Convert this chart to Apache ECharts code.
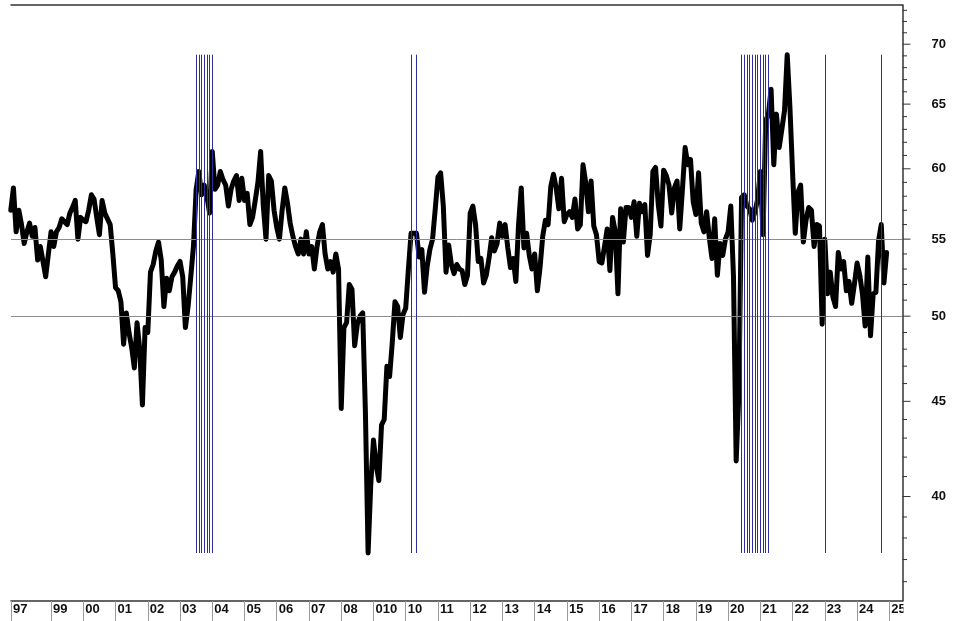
<!DOCTYPE html>
<html><head><meta charset="utf-8">
<script src="https://cdn.jsdelivr.net/npm/echarts@6/dist/echarts.min.js"></script>
<style>html,body{margin:0;padding:0;background:#fff}#c{width:959px;height:621px}</style>
</head><body><div id="c"></div>
<script>
// Monthly index values, first point = Oct 1997
const startYear = 1997, startMonth = 10;
const pmi = [
  57.0, 58.6, 55.5,
  57.0, 56.0, 54.7, 55.5, 56.1, 55.2, 55.8, 53.6, 54.5, 53.5, 52.5, 54.0,
  55.5, 54.5, 55.5, 55.8, 56.4, 56.2, 56.0, 56.8, 57.2, 57.7, 55.0, 56.5,
  56.3, 56.2, 57.0, 58.1, 57.8, 56.5, 55.3, 57.7, 56.8, 56.4, 56.0, 54.0,
  51.8, 51.6, 50.9, 48.3, 50.2, 49.0, 48.1, 46.9, 49.6, 48.0, 44.8, 49.3,
  49.0, 52.8, 53.3, 54.2, 54.8, 53.6, 50.6, 52.4, 51.6, 52.5, 52.8, 53.2,
  53.5, 52.5, 49.3, 50.6, 52.5, 54.5, 58.5, 59.8, 58.1, 58.8, 58.0, 56.8,
  61.3, 58.5, 58.8, 59.8, 59.2, 58.8, 57.3, 58.5, 59.1, 59.5, 57.7, 59.3,
  57.7, 58.2, 56.0, 56.5, 57.7, 59.0, 61.3, 57.3, 55.0, 59.5, 59.1, 57.0,
  55.8, 55.0, 57.0, 58.6, 57.5, 56.1, 55.2, 54.5, 54.0, 55.0, 54.0, 55.5,
  54.0, 54.5, 53.0, 54.5, 55.5, 56.0, 54.0, 53.0, 53.5, 52.8, 54.0, 53.0,
  44.6, 49.3, 49.6, 52.0, 51.7, 48.2, 49.5, 50.0, 50.2, 44.4, 37.3, 40.6,
  42.9, 41.6, 40.8, 43.7, 44.0, 47.0, 46.4, 48.4, 50.9, 50.6, 48.7, 50.1,
  50.5, 53.0, 55.4, 55.4, 55.4, 53.8, 54.3, 51.5, 53.2, 54.3, 55.0, 57.1,
  59.4, 59.7, 57.3, 52.8, 54.6, 53.3, 52.7, 53.3, 53.0, 52.9, 52.0, 52.6,
  56.8, 57.3, 56.0, 53.5, 53.7, 52.1, 52.6, 53.7, 55.1, 54.2, 54.7, 56.1,
  55.2, 56.0, 54.4, 53.1, 53.7, 52.2, 56.0, 58.6, 54.4, 55.4, 53.9, 53.0,
  54.0, 51.6, 53.1, 55.2, 56.3, 56.0, 58.7, 59.6, 58.6, 57.1, 59.3, 56.2,
  56.7, 56.9, 56.5, 57.8, 55.7, 56.0, 60.3, 59.0, 56.9, 59.1, 55.9, 55.3,
  53.5, 53.4, 54.5, 55.7, 52.9, 56.5, 55.5, 51.4, 57.1, 54.8, 57.2, 57.2,
  56.5, 57.6, 55.2, 57.5, 56.9, 57.4, 53.9, 55.3, 59.8, 60.1, 57.4, 55.9,
  59.9, 59.5, 58.8, 56.8, 58.6, 59.1, 55.7, 58.5, 61.6, 60.3, 60.7, 57.6,
  56.7, 59.7, 56.1, 55.5, 56.9, 55.1, 53.7, 56.4, 52.6, 54.7, 53.9, 55.0,
  55.5, 57.3, 52.5, 41.8, 45.4, 57.9, 58.1, 57.3, 57.1, 56.3, 56.9, 57.8,
  59.8, 55.3, 63.7, 64.2, 66.2, 60.3, 64.2, 61.6, 63.0, 64.5, 69.1, 64.8,
  59.7, 55.4, 58.3, 58.8, 54.8, 56.3, 57.2, 57.0, 54.5, 56.0, 55.9, 49.5,
  55.0, 51.4, 52.8, 51.2, 50.6, 54.1, 53.0, 53.5, 51.6, 52.2, 50.8, 52.0,
  53.4, 52.6, 51.4, 49.4, 53.8, 48.8, 51.4, 51.5, 54.9, 56.0, 52.1, 54.1
];

// Bottom axis: tick positions (decimal years) and their printed labels
const xTickValues = [1997.7575, 1999, 2000, 2001, 2002, 2003, 2004, 2005, 2006, 2007, 2008, 2009,
  2010, 2011, 2012, 2013, 2014, 2015, 2016, 2017, 2018, 2019, 2020, 2021, 2022, 2023, 2024, 2025];
const xTickLabels = ['97', '99', '00', '01', '02', '03', '04', '05', '06', '07', '08', '010',
  '10', '11', '12', '13', '14', '15', '16', '17', '18', '19', '20', '21', '22', '23', '24', '25'];

// Right axis ticks
const yMajorTicks = [40, 45, 50, 55, 60, 65, 70];
const yMinorTicks = [36, 37, 38, 39, 41, 42, 43, 44, 46, 47, 48, 49, 51, 52, 53, 54, 56, 57, 58, 59,
  61, 62, 63, 64, 66, 67, 68, 69, 71, 72, 73];

// Horizontal reference levels
const refLevels = [50, 55];

// Months marked by vertical blue lines [year, month]
const markerMonths = [
  [2003, 7], [2003, 8], [2003, 9], [2003, 10], [2003, 11], [2003, 12], [2004, 1],
  [2010, 3], [2010, 5],
  [2020, 6], [2020, 7], [2020, 8], [2020, 9], [2020, 10], [2020, 11], [2020, 12],
  [2021, 1], [2021, 2], [2021, 3], [2021, 4],
  [2023, 1],
  [2024, 10]
];

const X_MIN = 1997.7575, X_MAX = 2025.409;
const Y_MIN = 35.15, Y_MAX = 73.48;

const lineData = pmi.map((v, i) => [startYear + (startMonth - 1 + i) / 12, v]);
const markerT = markerMonths.map(([y, m]) => y + (m - 1) / 12);
const vMin = Math.min(...pmi), vMax = Math.max(...pmi);

const tickItems = yMajorTicks.map(v => [X_MAX, v, 1]).concat(yMinorTicks.map(v => [X_MAX, v, 0]));

const chart = echarts.init(document.getElementById('c'), null, {renderer: 'canvas'});
chart.setOption({
  animation: false,
  backgroundColor: '#fff',
  grid: {left: 11, right: 56.5, top: 5, bottom: 20, containLabel: false},
  xAxis: [{
    type: 'value', min: X_MIN, max: X_MAX, position: 'bottom',
    axisLine: {show: true, onZero: false, lineStyle: {color: '#333', width: 1.5}},
    axisTick: {show: true, customValues: xTickValues, length: 20, lineStyle: {color: '#9a9a9a', width: 1}},
    axisLabel: {
      customValues: xTickValues,
      formatter: v => { const i = xTickValues.findIndex(t => Math.abs(t - v) < 1e-6); return i >= 0 ? xTickLabels[i] : ''; },
      align: 'left', verticalAlign: 'top', margin: 2, padding: [0, 0, 0, 2],
      fontFamily: 'Arial', fontWeight: 'bold', fontSize: 13, color: '#111'
    },
    splitLine: {show: false}
  }, {
    type: 'value', min: X_MIN, max: X_MAX, position: 'top',
    axisLine: {show: true, onZero: false, lineStyle: {color: '#333', width: 1.5}},
    axisTick: {show: false}, axisLabel: {show: false}, splitLine: {show: false}
  }],
  yAxis: {
    type: 'log', logBase: 10, min: Y_MIN, max: Y_MAX, position: 'right',
    axisLine: {show: true, lineStyle: {color: '#333', width: 1.5}},
    axisTick: {show: false}, axisLabel: {show: false}, splitLine: {show: false}
  },
  visualMap: {
    type: 'piecewise', show: false, seriesIndex: 1, dimension: 0,
    pieces: markerT.map(t => ({gte: t - 1 / 24, lt: t + 1 / 24, color: '#12125e'})),
    outOfRange: {color: '#000'}
  },
  series: [{
    name: 'ref', type: 'line', data: [], z: 1, silent: true,
    markLine: {
      silent: true, symbol: 'none', label: {show: false},
      lineStyle: {color: '#8c8c8c', width: 1, type: 'solid'},
      data: refLevels.map(v => ({yAxis: v}))
    }
  }, {
    name: 'index', type: 'line', data: lineData, z: 3,
    showSymbol: false, symbol: 'none', smooth: false,
    lineStyle: {width: 5, color: '#000', join: 'round', cap: 'round'}
  }, {
    name: 'markers', type: 'line', data: [], z: 4, silent: true,
    markLine: {
      silent: true, symbol: 'none', label: {show: false},
      lineStyle: {color: '#2e2ea0', width: 1, type: 'solid'},
      data: markerT.map(t => [{coord: [t, vMin]}, {coord: [t, vMax]}])
    }
  }, {
    name: 'yticks', type: 'custom', data: tickItems, clip: false, silent: true, z: 6,
    renderItem: (params, api) => {
      const p = api.coord([api.value(0), api.value(1)]);
      const major = api.value(2) === 1;
      const children = [{
        type: 'line',
        shape: {x1: p[0], y1: p[1], x2: p[0] + (major ? 8 : 4.5), y2: p[1]},
        style: {stroke: '#333', lineWidth: 1}
      }];
      if (major) {
        children.push({
          type: 'text', x: p[0] + 29, y: p[1],
          style: {text: String(api.value(1)), fill: '#111', font: 'bold 13px Arial', textAlign: 'left', textVerticalAlign: 'middle'}
        });
      }
      return {type: 'group', children};
    }
  }],
  graphic: [{
    type: 'rect', left: 903.5, top: 602, shape: {width: 56, height: 19}, style: {fill: '#fff'}, z: 100
  }]
});
</script>
</body></html>
